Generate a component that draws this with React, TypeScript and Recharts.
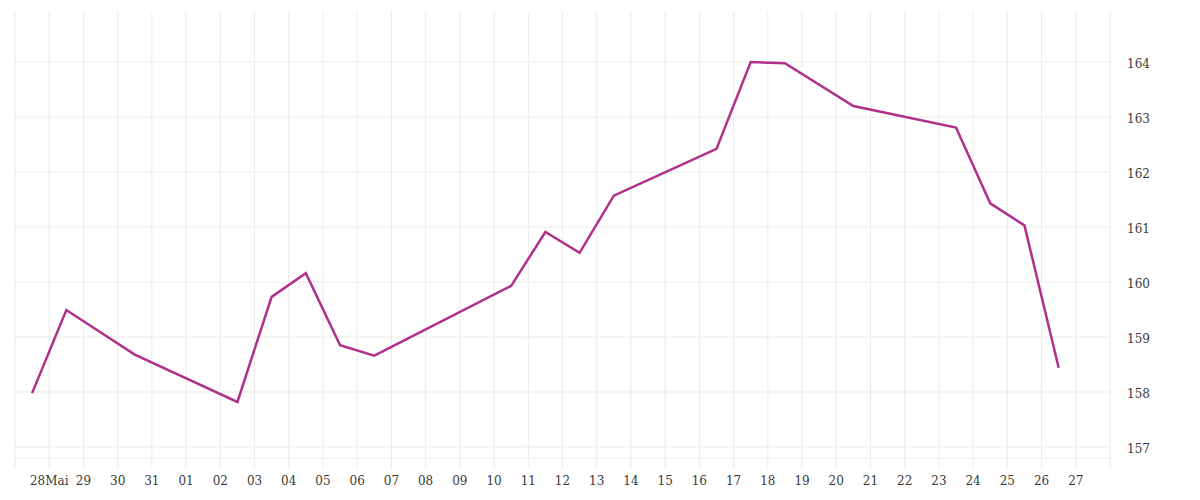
import React from 'react';
import { LineChart, Line, XAxis, YAxis, CartesianGrid } from 'recharts';

// tick labels for each day slot on the x axis (slot 0 and 32 are the plot edges)
const dayLabels = [
  '', '28Mai', '29', '30', '31',
  '01', '02', '03', '04', '05', '06', '07', '08', '09', '10',
  '11', '12', '13', '14', '15', '16', '17', '18', '19', '20',
  '21', '22', '23', '24', '25', '26', '27', '',
];
const dayTicks = dayLabels.map((_, i) => i);

// positions of the points (day slot) and the values
const pointDays = [0.5, 1.5, 3.5, 6.5, 7.5, 8.5, 9.5, 10.5, 14.5, 15.5, 16.5, 17.5, 20.5, 21.5, 22.5, 24.5, 27.5, 28.5, 29.5, 30.5];
const pointValues = [157.98, 159.49, 158.68, 157.82, 159.73, 160.16, 158.85, 158.66, 159.93, 160.91, 160.53, 161.57, 162.42, 164.0, 163.98, 163.2, 162.81, 161.43, 161.03, 158.44];

const valueTicks = [157, 158, 159, 160, 161, 162, 163, 164];

const data = pointDays.map((d, i) => ({ day: d, value: pointValues[i] }));

const gridColor = '#ebebeb';
const font = { fontFamily: '"DejaVu Serif", serif', fontSize: 12, fill: '#3a3a3a' };

export default function App() {
  return (
    <LineChart
      width={1184}
      height={492}
      data={data}
      margin={{ top: 4, right: 0, bottom: 0, left: 7 }}
    >
      {/* syncWithTicks: grid only at ticks, no extra line on the top edge */}
      <CartesianGrid stroke={gridColor} strokeWidth={1} syncWithTicks />
      <XAxis
        dataKey="day"
        type="number"
        domain={[0, 32]}
        ticks={dayTicks}
        interval={0}
        tickFormatter={(v: number) => dayLabels[v] ?? ''}
        axisLine={{ stroke: gridColor }}
        tickLine={{ stroke: gridColor }}
        tickSize={10}
        tickMargin={8}
        height={42}
        tick={font}
      />
      <YAxis
        orientation="right"
        type="number"
        domain={[156.8, 164.91]}
        ticks={valueTicks}
        axisLine={false}
        tickLine={false}
        tickSize={6}
        tickMargin={11}
        width={82}
        tick={{ ...font, textAnchor: 'start', dy: 2 }}
      />
      <Line
        type="linear"
        dataKey="value"
        stroke="#b0308a"
        strokeWidth={2.5}
        dot={false}
        isAnimationActive={false}
      />
    </LineChart>
  );
}
